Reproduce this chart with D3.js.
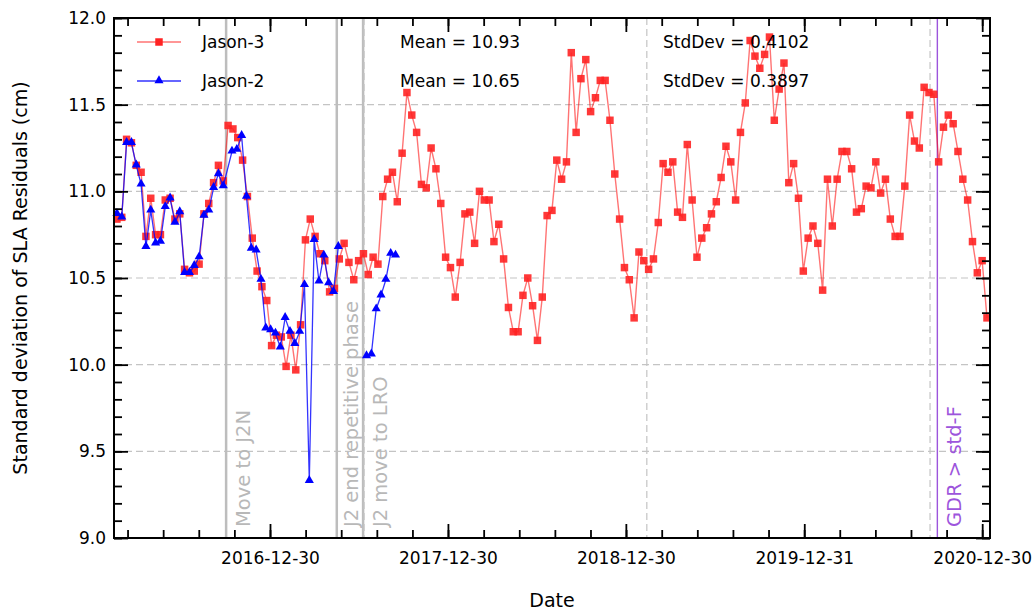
<!DOCTYPE html>
<html>
<head>
<meta charset="utf-8">
<script src="https://cdn.jsdelivr.net/npm/d3@7"></script>
<style>
  body { margin: 0; background: #fff; }
  text { font-family: "DejaVu Sans", sans-serif; }
</style>
</head>
<body>
<svg id="chart" width="1033" height="612"></svg>
<script>
// Jason-3 cycles 1..181, one value per cycle (cm)
const cycleDays = 9.9156;
const j3Start = "2016-02-20";
const j3Values = [
  10.84, 10.85, 11.30, 11.28, 11.15, 11.11, 10.74, 10.96, 10.75, 10.75,
  10.95, 10.96, 10.84, 10.87, 10.55, 10.53, 10.54, 10.58, 10.87, 10.93,
  11.05, 11.15, 11.06, 11.38, 11.36, 11.31, 11.18, 10.97, 10.73, 10.54,
  10.45, 10.37, 10.11, 10.17, 10.16, 9.99, 10.17, 9.97, 10.23, 10.72,
  10.84, 10.74, 10.64, 10.60, 10.42, 10.44, 10.61, 10.70, 10.59, 10.49,
  10.60, 10.64, 10.52, 10.62, 10.58, 10.97, 11.07, 11.11, 10.94, 11.22,
  11.57, 11.44, 11.34, 11.04, 11.02, 11.25, 11.13, 10.93, 10.62, 10.56,
  10.39, 10.59, 10.87, 10.88, 10.70, 11.00, 10.95, 10.95, 10.71, 10.81,
  10.61, 10.33, 10.19, 10.19, 10.40, 10.50, 10.34, 10.14, 10.39, 10.86,
  10.89, 11.18, 11.07, 11.17, 11.80, 11.34, 11.65, 11.76, 11.46, 11.54,
  11.64, 11.64, 11.41, 11.10, 10.84, 10.56, 10.49, 10.27, 10.65, 10.60,
  10.55, 10.61, 10.82, 11.16, 11.11, 11.17, 10.88, 10.85, 11.27, 10.95,
  10.62, 10.73, 10.79, 10.87, 10.94, 11.08, 11.26, 11.17, 10.95, 11.34,
  11.51, 11.87, 11.78, 11.71, 11.79, 11.89, 11.41, 11.59, 11.74, 11.05,
  11.16, 10.96, 10.54, 10.73, 10.80, 10.70, 10.43, 11.07, 10.80, 11.07,
  11.23, 11.23, 11.13, 10.88, 10.90, 11.03, 11.02, 11.17, 10.99, 11.07,
  10.84, 10.74, 10.74, 11.03, 11.44, 11.29, 11.25, 11.60, 11.57, 11.56,
  11.17, 11.37, 11.44, 11.39, 11.23, 11.07, 10.95, 10.71, 10.53, 10.60,
  10.27
];

// Jason-2 in three orbit phases
const j2TandemStart = "2016-02-20";
const j2TandemValues = [
  10.87, 10.85, 11.28, 11.28, 11.15, 11.04, 10.68, 10.89, 10.70, 10.71,
  10.91, 10.96, 10.82, 10.88, 10.53, 10.53, 10.57, 10.62, 10.86, 10.89,
  11.02, 11.10, 11.03
];
const j2InterleavedStart = "2016-10-13";
const j2InterleavedValues = [
  11.23, 11.24, 11.32, 10.97, 10.67, 10.66, 10.49, 10.21, 10.20, 10.18,
  10.10, 10.27, 10.19, 10.12, 10.19, 10.46, 9.33, 10.72, 10.48, 10.63,
  10.47, 10.42, 10.68
];
const j2LroStart = "2017-07-16";
const j2LroValues = [10.05, 10.06, 10.32, 10.40, 10.49, 10.64, 10.63];

const seriesNames = ["Jason-3", "Jason-2"];
const meanLabels = ["Mean = 10.93", "Mean = 10.65"];
const stdLabels = ["StdDev = 0.4102", "StdDev = 0.3897"];

const xTickLabels = ["2016-12-30", "2017-12-30", "2018-12-30", "2019-12-31", "2020-12-30"];
const yTicks = [9.0, 9.5, 10.0, 10.5, 11.0, 11.5, 12.0];
const gridDates = ["2017-07-11", "2019-02-11", "2020-09-14"];
const events = [
  { date: "2016-10-01", label: "Move to J2N", color: "#bdbdbd", text: "#b8b8b8" },
  { date: "2017-05-16", label: "J2 end repetitive phase", color: "#bdbdbd", text: "#b8b8b8" },
  { date: "2017-07-09", label: "J2 move to LRO", color: "#bdbdbd", text: "#b8b8b8" },
  { date: "2020-09-29", label: "GDR > std-F", color: "#9d55dc", text: "#9d55dc" }
];

const width = 1033, height = 612,
  margin = { top: 18, right: 43, bottom: 74, left: 114 };

const parse = d3.utcParse("%Y-%m-%d");
const DAY = 864e5;

const svg = d3.select("#chart");

// scales
let xScale = d3.scaleUtc()
  .domain([parse("2016-02-14"), parse("2021-01-15")])
  .range([margin.left, width - margin.right]);
let yScale = d3.scaleLinear()
  .domain([9, 12])
  .range([height - margin.bottom, margin.top]);

function toPoints(start, values) {
  const t0 = parse(start).getTime();
  return values.map((v, i) => ({ date: new Date(t0 + i * cycleDays * DAY), value: v }));
}

const j3Data = toPoints(j3Start, j3Values);
const j2Parts = [
  toPoints(j2TandemStart, j2TandemValues).concat(toPoints(j2InterleavedStart, j2InterleavedValues)),
  toPoints(j2LroStart, j2LroValues)
];

const x0 = margin.left, x1 = width - margin.right;
const y0 = margin.top, y1 = height - margin.bottom;

// horizontal grid
svg.append("g").selectAll("line")
  .data([9.5, 10.0, 10.5, 11.0, 11.5]).enter()
  .append("line")
  .attr("x1", x0).attr("x2", x1)
  .attr("y1", d => yScale(d)).attr("y2", d => yScale(d))
  .attr("stroke", "#c4c4c4").attr("stroke-width", 1.2)
  .attr("stroke-dasharray", "7,4");

// event lines
svg.append("g").selectAll("line")
  .data(events).enter()
  .append("line")
  .attr("x1", d => xScale(parse(d.date))).attr("x2", d => xScale(parse(d.date)))
  .attr("y1", y0).attr("y2", y1)
  .attr("stroke", d => d.color)
  .attr("stroke-width", (d, i) => i == 3 ? 1.4 : 2.5);

// vertical grid
svg.append("g").selectAll("line")
  .data(gridDates).enter()
  .append("line")
  .attr("x1", d => xScale(parse(d))).attr("x2", d => xScale(parse(d)))
  .attr("y1", y0).attr("y2", y1)
  .attr("stroke", "#c4c4c4").attr("stroke-width", 1.2)
  .attr("stroke-dasharray", "7,4");

// event labels
svg.append("g").selectAll("text")
  .data(events).enter()
  .append("text")
  .attr("transform", d => "translate(" + (xScale(parse(d.date)) + (d.label.indexOf("phase") > 0 ? 21 : 24)) + "," + (y1 - 11) + ") rotate(-90)")
  .attr("fill", d => d.text)
  .style("font-size", "19.5px")
  .text(d => d.label);

// line generator
let line = d3.line()
  .x(d => xScale(d.date))
  .y(d => yScale(d.value));

const square = d3.symbol().type(d3.symbolSquare).size(56);
const triangle = d3.symbol().type(d3.symbolTriangle).size(36);

// Jason-3
svg.append("path")
  .attr("d", line(j3Data))
  .attr("fill", "none")
  .attr("stroke", "red").attr("stroke-opacity", 0.55)
  .attr("stroke-width", 1.4);
svg.append("g").selectAll("path")
  .data(j3Data).enter()
  .append("path")
  .attr("d", square)
  .attr("transform", d => "translate(" + xScale(d.date) + "," + yScale(d.value) + ")")
  .attr("fill", "#f22").attr("fill-opacity", 0.9);

// Jason-2
j2Parts.forEach(part => {
  svg.append("path")
    .attr("d", line(part))
    .attr("fill", "none")
    .attr("stroke", "blue").attr("stroke-opacity", 0.8)
    .attr("stroke-width", 1.3);
  svg.append("g").selectAll("path")
    .data(part).enter()
    .append("path")
    .attr("d", triangle)
    .attr("transform", d => "translate(" + xScale(d.date) + "," + (yScale(d.value) - 0.5) + ")")
    .attr("fill", "blue");
});

// legend and stats
const legendY = [42, 81];
seriesNames.forEach((name, i) => {
  const col = i == 0 ? "red" : "blue";
  svg.append("line")
    .attr("x1", 137).attr("x2", 181)
    .attr("y1", legendY[i]).attr("y2", legendY[i])
    .attr("stroke", col).attr("stroke-opacity", i == 0 ? 0.55 : 0.8)
    .attr("stroke-width", 1.4);
  svg.append("path")
    .attr("d", i == 0 ? square : triangle)
    .attr("transform", "translate(159," + (legendY[i] - (i == 0 ? 0 : 0.5)) + ")")
    .attr("fill", i == 0 ? "#f22" : "blue");
  svg.append("text")
    .attr("x", 202).attr("y", legendY[i] + 6)
    .style("font-size", "17px")
    .text(name);
  svg.append("text")
    .attr("x", 400).attr("y", legendY[i] + 6)
    .style("font-size", "17px")
    .text(meanLabels[i]);
  svg.append("text")
    .attr("x", 663).attr("y", legendY[i] + 6)
    .style("font-size", "17px")
    .text(stdLabels[i]);
});

// axes: ticks point inward on all four sides
const majorX = xTickLabels.map(parse);
const minorX = d3.range(-4, 21).map(k => new Date(majorX[0].getTime() + k * 73.05 * DAY))
  .filter(d => d >= xScale.domain()[0] && d <= xScale.domain()[1]);
const minorY = d3.range(90, 121).map(d => d / 10);

function drawAxis(axisFn, scale, ticks, size, pos, labels, fmt) {
  const g = svg.append("g")
    .attr("transform", pos)
    .call(axisFn(scale).tickValues(ticks).tickSizeInner(-size).tickSizeOuter(0)
      .tickPadding(labels ? (axisFn == d3.axisBottom ? 14 : 8) : 0)
      .tickFormat(labels ? fmt : ""));
  g.select(".domain").remove();
  g.selectAll(".tick line").attr("stroke", "#000").attr("stroke-width", 1.8);
  g.selectAll(".tick text").attr("fill", "#000").style("font-size", "17px")
    .style("font-family", "DejaVu Sans, sans-serif");
  return g;
}

drawAxis(d3.axisBottom, xScale, minorX, 8, "translate(0," + y1 + ")", false);
drawAxis(d3.axisBottom, xScale, majorX, 14, "translate(0," + y1 + ")", true, (d, i) => xTickLabels[i]);
drawAxis(d3.axisTop, xScale, minorX, 8, "translate(0," + y0 + ")", false);
drawAxis(d3.axisTop, xScale, majorX, 14, "translate(0," + y0 + ")", false);
drawAxis(d3.axisLeft, yScale, minorY, 8, "translate(" + x0 + ",0)", false);
drawAxis(d3.axisLeft, yScale, yTicks, 14, "translate(" + x0 + ",0)", true, d3.format(".1f"));
drawAxis(d3.axisRight, yScale, minorY, 8, "translate(" + x1 + ",0)", false);
drawAxis(d3.axisRight, yScale, yTicks, 14, "translate(" + x1 + ",0)", false);

// frame
svg.append("rect")
  .attr("x", x0).attr("y", y0)
  .attr("width", x1 - x0).attr("height", y1 - y0)
  .attr("fill", "none").attr("stroke", "#000").attr("stroke-width", 2);

// axis titles
svg.append("text")
  .attr("x", (x0 + x1) / 2).attr("y", 607)
  .attr("text-anchor", "middle")
  .style("font-size", "19px")
  .text("Date");
svg.append("text")
  .attr("transform", "translate(27," + (y0 + y1) / 2 + ") rotate(-90)")
  .attr("text-anchor", "middle")
  .style("font-size", "19px")
  .text("Standard deviation of SLA Residuals (cm)");
</script>
</body>
</html>
